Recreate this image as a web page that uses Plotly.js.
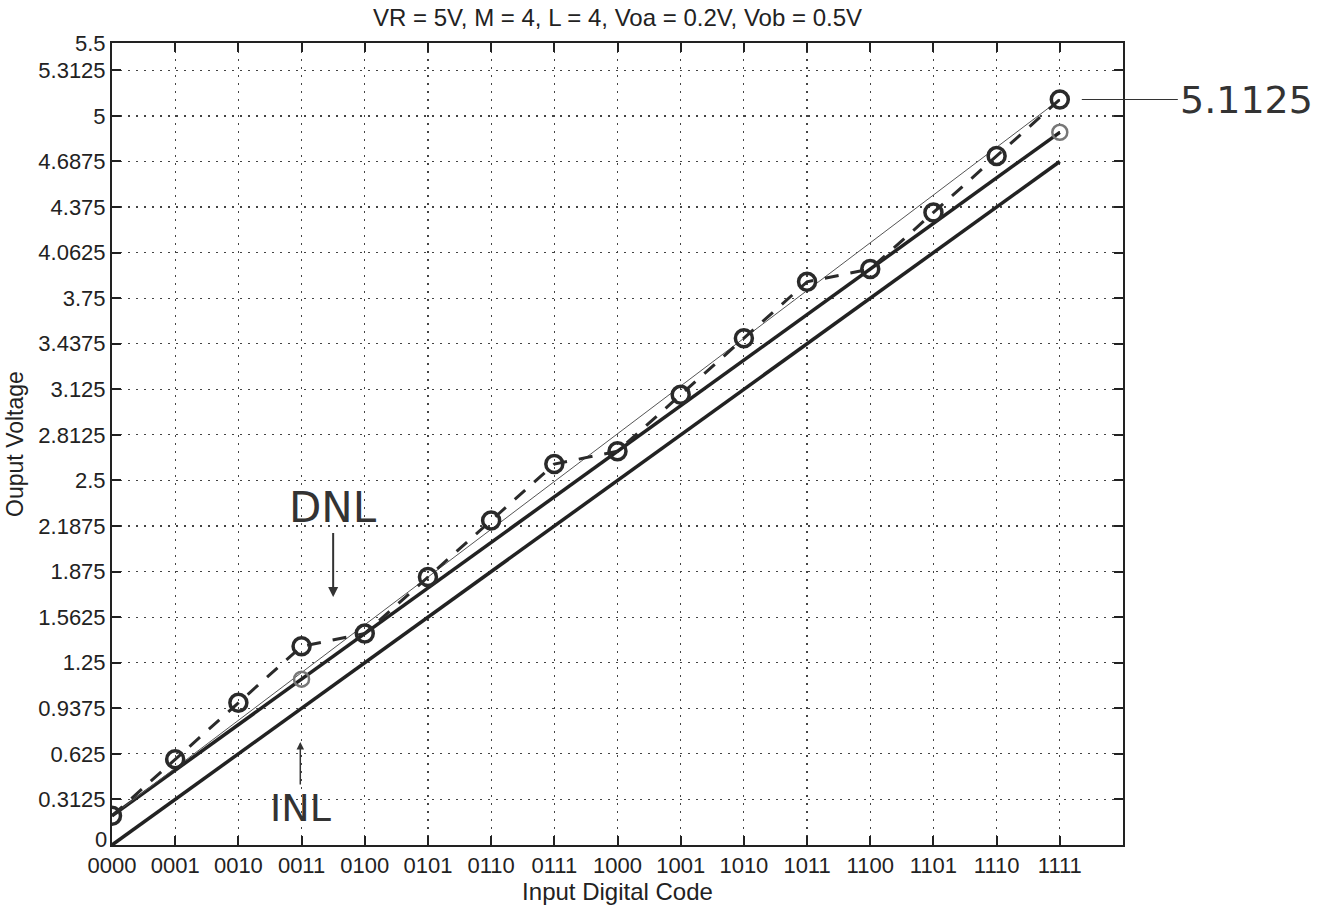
<!DOCTYPE html>
<html>
<head>
<meta charset="utf-8">
<script src="https://cdn.plot.ly/plotly-3.0.1.min.js"></script>
<style>html,body{margin:0;padding:0;background:#fff;}#chart{width:1339px;height:911px;}</style>
</head>
<body>
<div id="chart"></div>
<script>
// ---- data ----
const codeLabels = ["0000","0001","0010","0011","0100","0101","0110","0111",
                    "1000","1001","1010","1011","1100","1101","1110","1111"];
const codes = [0,1,2,3,4,5,6,7,8,9,10,11,12,13,14,15];
const dacOutput = [0.2, 0.5875, 0.975, 1.3625, 1.45, 1.8375, 2.225, 2.6125,
                   2.7, 3.0875, 3.475, 3.8625, 3.95, 4.3375, 4.725, 5.1125];
const idealX = [0, 15];
const idealY = [0, 4.6875];
const offsetX = [0, 15];
const offsetY = [0.2, 4.8875];
const endpointX = [0, 15];
const endpointY = [0.2, 5.1125];
const inlMarkX = [3, 15];
const inlMarkY = [1.1375, 4.8875];
const yTickVals = [0, 0.3125, 0.625, 0.9375, 1.25, 1.5625, 1.875, 2.1875, 2.5,
                   2.8125, 3.125, 3.4375, 3.75, 4.0625, 4.375, 4.6875, 5, 5.3125, 5.5];
const yTickText = ["","0.3125","0.625","0.9375","1.25","1.5625","1.875","2.1875","2.5",
                   "2.8125","3.125","3.4375","3.75","4.0625","4.375","4.6875","5","5.3125","5.5"];
const yZeroLabel = "0";
const titleText = "VR = 5V, M = 4, L = 4, Voa = 0.2V, Vob = 0.5V";

const traces = [
  {x: idealX, y: idealY, mode: 'lines', line: {color: '#222', width: 3.5}, hoverinfo: 'skip'},
  {x: offsetX, y: offsetY, mode: 'lines', line: {color: '#222', width: 3.5}, hoverinfo: 'skip'},
  {x: endpointX, y: endpointY, mode: 'lines', line: {color: '#555', width: 1}, hoverinfo: 'skip'},
  {x: inlMarkX, y: inlMarkY, mode: 'markers',
   marker: {symbol: 'circle-open', size: 15, color: '#777', line: {width: 2.5, color: '#777'}}},
  {x: codes, y: dacOutput, mode: 'lines+markers',
   line: {color: '#2a2a2a', width: 3, dash: '14px,12px'},
   marker: {symbol: 'circle-open', size: 17, color: '#2a2a2a', line: {width: 3.5, color: '#2a2a2a'}}}
];

const layout = {
  width: 1339, height: 911,
  margin: {l: 112, r: 216, t: 43, b: 66},
  paper_bgcolor: '#fff', plot_bgcolor: '#fff',
  showlegend: false,
  font: {family: 'Liberation Sans, Arial, sans-serif', color: '#222', size: 22},
  title: {text: titleText, x: 0.5, xanchor: 'center', xref: 'paper', yref: 'container',
          y: 0.981, yanchor: 'middle', font: {size: 24, color: '#222'}},
  xaxis: {
    range: [0, 16], tickvals: codes, ticktext: codeLabels,
    ticks: 'inside', ticklen: 9, tickwidth: 2, tickcolor: '#222',
    showline: true, linecolor: '#222', linewidth: 2, mirror: 'ticks',
    showgrid: true, gridcolor: '#444', gridwidth: 1.2, griddash: '2px,6px',
    zeroline: false, tickfont: {size: 22},
    title: {text: 'Input Digital Code', standoff: 0, font: {size: 24}}
  },
  yaxis: {
    range: [0, 5.5], tickvals: yTickVals, ticktext: yTickText,
    ticks: 'inside', ticklen: 9, tickwidth: 2, tickcolor: '#222',
    showline: true, linecolor: '#222', linewidth: 2, mirror: 'ticks',
    showgrid: true, gridcolor: '#444', gridwidth: 1.2, griddash: '2px,6px',
    zeroline: false, tickfont: {size: 22},
    title: {text: 'Ouput Voltage', standoff: 8, font: {size: 23}}
  },
  annotations: [
    {x: 0, y: 0, xref: 'paper', yref: 'y', text: yZeroLabel, showarrow: false,
     xanchor: 'right', yanchor: 'middle', xshift: -3, yshift: 6, font: {size: 22, color: '#222'}},
    {x: 15, y: 5.1125, xref: 'x', yref: 'y', text: '5.1125', showarrow: true,
     arrowhead: 0, arrowwidth: 1.2, arrowcolor: '#333', ax: 118, ay: 0, standoff: 22,
     xanchor: 'left', font: {family: 'DejaVu Sans, sans-serif', size: 38, color: '#333'}},
    {x: 3.5, y: 1.70, xref: 'x', yref: 'y', text: 'DNL', showarrow: true,
     arrowhead: 2, arrowsize: 1, arrowwidth: 2, arrowcolor: '#333', ax: 0, ay: -90,
     font: {family: 'DejaVu Sans, sans-serif', size: 42, color: '#333'}},
    {x: 2.98, y: 0.707, xref: 'x', yref: 'y', text: 'INL', showarrow: true,
     arrowhead: 2, arrowsize: 1, arrowwidth: 1.5, arrowcolor: '#333', ax: 0, ay: 66,
     font: {family: 'DejaVu Sans, sans-serif', size: 38, color: '#333'}}
  ]
};

Plotly.newPlot('chart', traces, layout, {displayModeBar: false, staticPlot: true});
</script>
</body>
</html>
